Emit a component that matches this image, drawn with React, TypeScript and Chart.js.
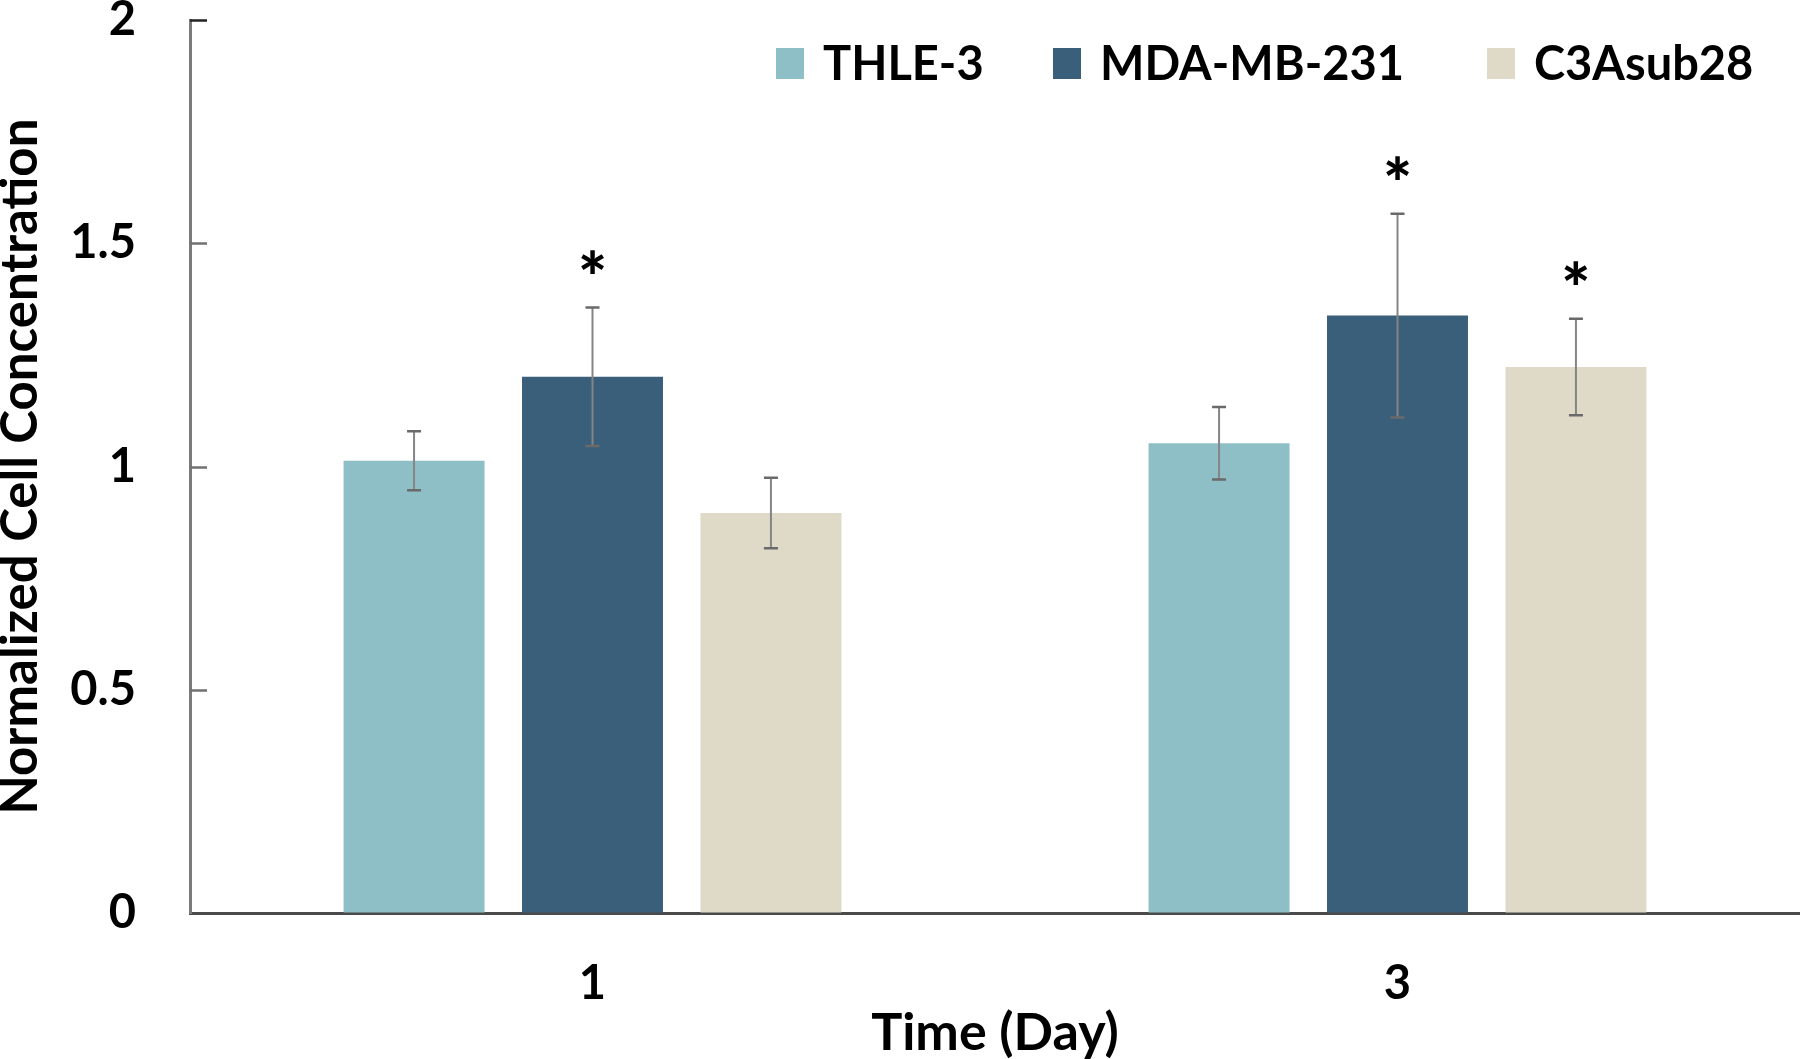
import React, { useEffect, useRef } from "react";
import { Chart, registerables } from "chart.js";

Chart.register(...registerables);

const FONT = "Lato, 'Open Sans', 'DejaVu Sans', sans-serif";

const days = ["1", "3"];
const seriesNames = ["THLE-3", "MDA-MB-231", "C3Asub28"];
const seriesColors = ["#8FBFC6", "#3A5F7A", "#DFD9C8"];

const thle3Values = [1.013, 1.052];
const thle3Errors = [0.066, 0.081];
const thle3Stars = [false, false];

const mdaValues = [1.201, 1.338];
const mdaErrors = [0.155, 0.228];
const mdaStars = [true, true];

const c3aValues = [0.896, 1.223];
const c3aErrors = [0.079, 0.108];
const c3aStars = [false, true];

const yMin = 0;
const yMax = 2;
const yStep = 0.5;

const legendStarts = [776, 1053, 1487];

const errorBarPlugin = {
  id: "errorBars",
  afterDatasetsDraw(chart: any) {
    const ctx = chart.ctx;
    const ys = chart.scales.y;
    chart.data.datasets.forEach((ds: any, i: number) => {
      const meta = chart.getDatasetMeta(i);
      meta.data.forEach((bar: any, j: number) => {
        const v = ds.data[j];
        const e = ds.errors[j];
        const yt = ys.getPixelForValue(v + e);
        const yb = ys.getPixelForValue(v - e);
        const x = bar.x;
        ctx.save();
        ctx.strokeStyle = "#858585";
        ctx.lineWidth = 2;
        ctx.beginPath();
        ctx.moveTo(x, yt);
        ctx.lineTo(x, yb);
        ctx.stroke();
        ctx.strokeStyle = "#6a6a6a";
        ctx.lineWidth = 2.5;
        ctx.beginPath();
        ctx.moveTo(x - 7, yt);
        ctx.lineTo(x + 7, yt);
        ctx.moveTo(x - 7, yb);
        ctx.lineTo(x + 7, yb);
        ctx.stroke();
        if (ds.stars[j]) {
          ctx.font = `900 100px ${FONT}`;
          const m0 = ctx.measureText("*");
          const h0 = m0.actualBoundingBoxAscent + m0.actualBoundingBoxDescent;
          const size = h0 > 0 ? (100 * 24) / h0 : 50;
          ctx.font = `900 ${size}px ${FONT}`;
          const m = ctx.measureText("*");
          const cy = yt - 46;
          const base = cy + (m.actualBoundingBoxAscent - m.actualBoundingBoxDescent) / 2;
          ctx.fillStyle = "#000";
          ctx.textAlign = "center";
          ctx.textBaseline = "alphabetic";
          ctx.fillText("*", x, base);
        }
        ctx.restore();
      });
    });
  },
};

const innerTicksPlugin = {
  id: "innerTicks",
  afterDraw(chart: any) {
    const ctx = chart.ctx;
    const ys = chart.scales.y;
    const left = chart.chartArea.left;
    ctx.save();
    ys.ticks.forEach((t: any) => {
      if (t.value === yMin) return;
      const py = Math.round(ys.getPixelForValue(t.value)) + 0.5;
      ctx.strokeStyle = t.value === yMax ? "#222" : "#707070";
      ctx.lineWidth = 2.5;
      ctx.beginPath();
      ctx.moveTo(left, py);
      ctx.lineTo(left + 17, py);
      ctx.stroke();
    });
    ctx.restore();
  },
};

const legendPlugin = {
  id: "customLegend",
  afterDraw(chart: any) {
    const ctx = chart.ctx;
    ctx.save();
    ctx.font = `bold 47px ${FONT}`;
    ctx.textBaseline = "alphabetic";
    ctx.textAlign = "left";
    const boxW = 28;
    const boxH = 31;
    const boxY = 48;
    const textY = 80;
    chart.data.datasets.forEach((ds: any, i: number) => {
      const x = legendStarts[i];
      ctx.fillStyle = ds.backgroundColor;
      ctx.fillRect(x, boxY, boxW, boxH);
      ctx.fillStyle = "#000";
      ctx.fillText(ds.label, x + boxW + 19, textY);
    });
    ctx.restore();
  },
};

export default function App() {
  const ref = useRef<HTMLCanvasElement | null>(null);

  useEffect(() => {
    if (!ref.current) return;
    const valuesList = [thle3Values, mdaValues, c3aValues];
    const errorsList = [thle3Errors, mdaErrors, c3aErrors];
    const starsList = [thle3Stars, mdaStars, c3aStars];
    const chart = new Chart(ref.current, {
      type: "bar",
      data: {
        labels: days,
        datasets: seriesNames.map((name, i) => ({
          label: name,
          data: valuesList[i],
          errors: errorsList[i],
          stars: starsList[i],
          backgroundColor: seriesColors[i],
          borderWidth: 0,
          categoryPercentage: 0.665,
          barPercentage: 0.79,
        })) as any,
      },
      options: {
        responsive: false,
        animation: false,
        layout: { padding: { top: 20, left: 0, right: 0, bottom: 0 } },
        plugins: {
          legend: { display: false },
          tooltip: { enabled: false },
        },
        scales: {
          x: {
            type: "category",
            grid: { display: true, drawOnChartArea: false, drawTicks: false },
            border: { display: true, color: "#4a4a4a", width: 3 },
            ticks: {
              color: "#000",
              padding: 43,
              font: { family: FONT, size: 47, weight: "bold", lineHeight: 1.2 },
            },
            title: {
              display: true,
              text: "Time (Day)",
              color: "#000",
              padding: { top: 0, bottom: 0 },
              font: { family: FONT, size: 52, weight: "bold", lineHeight: 1.0 },
            },
            afterFit(s: any) {
              s.height = 146;
              s.paddingLeft = 0;
              s.paddingRight = 0;
            },
          },
          y: {
            min: yMin,
            max: yMax,
            grid: { display: true, drawOnChartArea: false, drawTicks: false },
            border: { display: true, color: "#7a7a7a", width: 3 },
            ticks: {
              stepSize: yStep,
              color: "#000",
              padding: 54,
              font: { family: FONT, size: 47, weight: "bold", lineHeight: 0.8 },
              callback: (v: any) => String(Number(v)),
            },
            title: {
              display: true,
              text: "Normalized Cell Concentration",
              color: "#000",
              padding: { top: 0, bottom: 0 },
              font: { family: FONT, size: 51, weight: "bold", lineHeight: 0.8 },
            },
            afterFit(s: any) {
              s.width = 190;
              s.paddingTop = 0;
              s.paddingBottom = 0;
            },
          },
        },
      } as any,
      plugins: [errorBarPlugin, innerTicksPlugin, legendPlugin],
    });
    return () => chart.destroy();
  }, []);

  return (
    <div style={{ position: "absolute", left: 0, top: 0, width: 1800, height: 1059, background: "#fff" }}>
      <canvas ref={ref} width={1800} height={1059} style={{ display: "block" }} />
    </div>
  );
}
